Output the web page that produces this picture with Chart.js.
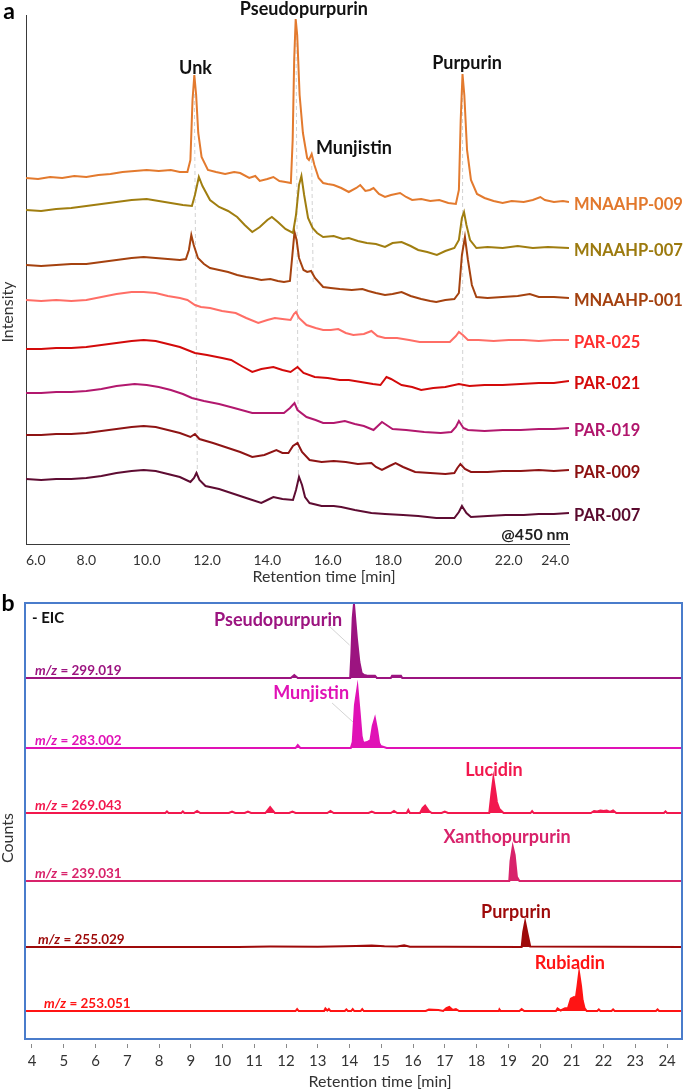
<!DOCTYPE html>
<html>
<head>
<meta charset="utf-8">
<title>HPLC chromatograms and EIC</title>
<script src="https://cdn.jsdelivr.net/npm/chart.js@4.4.1/dist/chart.umd.min.js"></script>
<style>
  html, body { margin: 0; padding: 0; background: #fff; }
  .panel { position: relative; width: 685px; }
  #panelA { height: 590px; }
  #panelB { height: 501px; }
</style>
</head>
<body>
<div class="panel" id="panelA"><canvas id="chartA"></canvas></div>
<div class="panel" id="panelB"><canvas id="chartB"></canvas></div>
<script>
// ---- panel a : chromatograms @450 nm (stacked, arbitrary intensity units) ----
const ticksA = [6, 8, 10, 12, 14, 16, 18, 20, 22, 24];
const sampleNames = ['MNAAHP-009', 'MNAAHP-007', 'MNAAHP-001', 'PAR-025', 'PAR-021', 'PAR-019', 'PAR-009', 'PAR-007'];

const mnaahp009 = [[6.0,366],[6.4,365],[6.8,367],[7.2,366],[7.6,368],[8.0,367],[8.4,369],[8.8,370],[9.2,372],[9.6,373],[10.0,374],[10.4,373],[10.8,374],[11.1,372],[11.35,372],[11.45,384],[11.52,444],[11.58,469],[11.64,449],[11.71,411],[11.82,387],[12.03,374],[12.3,372],[12.6,370],[12.9,372],[13.1,371],[13.4,366],[13.6,368],[13.75,363],[14.0,365],[14.2,367],[14.4,363],[14.6,362],[14.78,361],[14.84,404],[14.89,484],[14.94,525],[14.99,509],[15.07,449],[15.18,411],[15.32,386],[15.38,384],[15.47,390],[15.56,379],[15.7,366],[15.85,361],[16.0,360],[16.2,359],[16.45,356],[16.7,352],[16.95,356],[17.08,359],[17.25,353],[17.4,354],[17.52,356],[17.7,350],[17.9,347],[18.1,349],[18.4,351],[18.6,347],[18.8,344],[19.1,345],[19.4,343],[19.7,344],[20.0,341],[20.25,340],[20.35,354],[20.41,424],[20.47,470],[20.53,449],[20.62,394],[20.75,364],[20.95,350],[21.2,346],[21.5,343],[21.8,341],[22.1,343],[22.5,342],[22.8,344],[23.05,347],[23.2,344],[23.5,342],[23.8,343],[24.0,342]];

const mnaahp007 = [[6.0,334],[6.5,333],[7.0,335],[7.5,336],[8.0,338],[8.5,340],[9.0,342],[9.5,344],[10.0,345],[10.4,343],[10.8,341],[11.2,339],[11.5,338],[11.6,349],[11.73,367],[11.85,358],[12.1,344],[12.4,337],[12.7,333],[13.0,327],[13.25,319],[13.5,312],[13.75,317],[14.0,324],[14.15,327],[14.35,322],[14.6,315],[14.85,311],[14.95,329],[15.05,359],[15.13,368],[15.22,349],[15.35,326],[15.5,316],[15.65,311],[15.85,307],[16.2,308],[16.5,305],[16.7,306],[17.0,303],[17.3,301],[17.6,300],[17.9,297],[18.15,301],[18.45,302],[18.75,298],[19.0,294],[19.3,292],[19.62,289],[19.9,293],[20.2,296],[20.35,304],[20.45,326],[20.52,332],[20.6,319],[20.72,304],[20.93,296],[21.3,297],[21.8,296],[22.3,298],[22.8,296],[23.3,297],[24.0,296]];

const mnaahp001 = [[6.0,279],[6.5,278],[7.0,279],[7.5,280],[8.0,280],[8.5,282],[9.0,284],[9.5,286],[9.9,287],[10.3,286],[10.7,285],[11.1,284],[11.3,285],[11.4,294],[11.48,309],[11.56,299],[11.7,286],[11.9,280],[12.1,276],[12.4,274],[12.7,272],[13.0,269],[13.3,267],[13.5,266],[13.8,264],[14.1,265],[14.35,263],[14.55,262],[14.75,263],[14.83,289],[14.9,312],[14.97,304],[15.05,286],[15.2,274],[15.32,272],[15.45,273],[15.58,266],[15.85,257],[16.1,256],[16.4,255],[16.8,254],[17.15,255],[17.35,253],[17.6,251],[17.9,249],[18.15,250],[18.45,252],[18.75,248],[19.1,245],[19.4,243],[19.6,242],[19.9,244],[20.2,245],[20.35,251],[20.45,289],[20.55,307],[20.65,284],[20.78,259],[20.93,247],[21.3,246],[21.8,247],[22.3,248],[22.7,250],[23.0,247],[23.5,247],[24.0,246]];

const par025 = [[6.0,244],[6.5,243],[7.0,244],[7.5,243],[8.0,244],[8.5,247],[9.0,250],[9.5,252],[9.9,252],[10.3,251],[10.7,248],[11.1,246],[11.35,244],[11.6,239],[11.8,237],[12.1,236],[12.5,233],[12.95,231],[13.3,226],[13.7,221],[14.0,224],[14.25,226],[14.5,225],[14.77,224],[14.88,230],[14.95,232],[15.05,226],[15.3,219],[15.6,216],[15.85,214],[16.1,214],[16.35,215],[16.6,211],[16.85,209],[17.2,210],[17.45,213],[17.65,208],[17.9,206],[18.3,206],[18.7,204],[19.05,202],[19.5,202],[20.05,202],[20.25,208],[20.35,212],[20.48,209],[20.65,204],[21.0,204],[21.5,203],[22.0,204],[22.5,204],[23.0,203],[23.5,204],[24.0,204]];

const par021 = [[6.0,195],[6.5,195],[7.0,196],[7.5,196],[8.0,197],[8.5,199],[9.0,201],[9.5,203],[9.9,204],[10.3,203],[10.7,200],[11.1,197],[11.6,191],[12.0,189],[12.5,186],[12.8,184],[13.2,177],[13.5,172],[13.8,175],[14.2,177],[14.5,174],[14.77,172],[15.0,177],[15.2,171],[15.57,167],[16.0,166],[16.4,164],[16.7,164],[17.1,162],[17.5,160],[17.75,159],[17.95,167],[18.1,165],[18.45,159],[18.8,157],[19.1,154],[19.5,156],[19.9,157],[20.35,160],[20.7,158],[21.2,159],[21.8,159],[22.4,160],[23.0,161],[23.5,161],[24.0,163]];

const par019 = [[6.0,151],[6.5,151],[7.0,152],[7.5,152],[8.0,153],[8.5,155],[9.0,158],[9.6,160],[10.0,159],[10.4,157],[10.8,154],[11.2,150],[11.5,146],[11.9,143],[12.4,140],[12.9,136],[13.5,131],[14.0,131],[14.55,131],[14.75,136],[14.9,141],[15.0,134],[15.3,127],[15.6,124],[15.85,121],[16.2,121],[16.57,123],[16.9,120],[17.2,118],[17.52,114],[17.8,122],[17.95,119],[18.15,115],[18.6,114],[19.2,112],[19.75,111],[20.1,112],[20.25,117],[20.35,123],[20.5,116],[20.65,114],[21.2,113],[21.8,114],[22.4,114],[23.0,115],[23.5,115],[24.0,116]];

const par009 = [[6.0,109],[6.5,109],[7.0,110],[7.5,110],[8.0,111],[8.5,113],[9.0,115],[9.5,117],[9.9,118],[10.3,117],[10.7,114],[11.1,111],[11.45,107],[11.6,110],[11.75,105],[12.2,101],[12.7,96],[13.1,92],[13.5,87],[13.9,89],[14.3,94],[14.5,91],[14.7,91],[14.85,98],[15.0,101],[15.15,92],[15.4,84],[15.8,82],[16.2,83],[16.6,82],[17.0,80],[17.45,81],[17.6,77],[17.8,74],[18.05,78],[18.25,81],[18.5,77],[18.9,72],[19.4,71],[19.9,70],[20.2,71],[20.3,76],[20.4,80],[20.55,75],[20.75,72],[21.3,72],[21.8,73],[22.4,73],[23.0,74],[23.5,73],[24.0,74]];

const par007 = [[6.0,65],[6.5,64],[7.0,65],[7.5,65],[8.0,66],[8.5,68],[9.0,71],[9.5,73],[9.9,74],[10.3,73],[10.7,70],[11.1,67],[11.45,62],[11.57,66],[11.65,71],[11.75,64],[11.95,58],[12.4,55],[12.9,50],[13.4,45],[13.8,41],[14.0,44],[14.2,47],[14.5,45],[14.85,44],[14.95,54],[15.05,67],[15.15,59],[15.25,47],[15.4,41],[15.8,38],[16.2,38],[16.45,37],[16.9,34],[17.45,31],[17.9,30],[18.5,29],[19.0,28],[19.6,26],[20.2,26],[20.35,32],[20.45,38],[20.6,31],[20.75,27],[21.3,28],[21.9,29],[22.5,29],[23.0,30],[23.5,30],[24.0,31]];

const tracesA = [mnaahp009, mnaahp007, mnaahp001, par025, par021, par019, par009, par007];
const traceColorsA = ['#E37A2E', '#A07E10', '#A5420F', '#FF6E66', '#D30A0A', '#B2186E', '#8E1414', '#5E0C32'];
const labelColorsA = ['#E2782C', '#9C7A0E', '#A3400E', '#FF2E2E', '#D40A0A', '#B0156C', '#8C1010', '#5A0A2E'];

// dashed guides linking the peaks across the samples
const guideUnk = [[11.58,450],[11.68,69]];
const guidePseudo = [[14.95,515],[15.03,67]];
const guideMunj = [[15.47,385],[15.52,262]];
const guidePurp = [[20.47,460],[20.48,36]];

// ---- panel b : extracted ion chromatograms (negative mode) ----
const ticksB = [4, 5, 6, 7, 8, 9, 10, 11, 12, 13, 14, 15, 16, 17, 18, 19, 20, 21, 22, 23, 24];
const eicMz = ['299.019', '283.002', '269.043', '239.031', '255.029', '253.051'];
const eicCompounds = ['Pseudopurpurin', 'Munjistin', 'Lucidin', 'Xanthopurpurin', 'Purpurin', 'Rubiadin'];
const eicBaselines = [361, 291, 226, 158, 92, 28];

const eic299 = [[3.78,0],[12.15,0],[12.26,3],[12.37,0],[14.02,0],[14.06,25],[14.1,60],[14.14,74],[14.19,55],[14.23,40],[14.31,16],[14.38,5],[14.46,3],[14.54,2.6],[14.8,2.3],[14.86,0],[15.3,0],[15.34,2.3],[15.62,2.3],[15.66,0],[24.47,0]];
const eic283 = [[3.78,0],[12.3,0],[12.37,3],[12.45,0],[14.04,0],[14.1,6],[14.17,43],[14.25,60],[14.32,35],[14.38,12],[14.43,5],[14.56,6],[14.66,8],[14.73,22],[14.8,29.5],[14.87,18],[14.93,5],[14.98,2],[15.17,0],[24.47,0]];
const eic269 = [[3.78,0],[8.2,0],[8.25,1.5],[8.3,0],[8.7,0],[8.75,1.5],[8.8,0],[9.1,0],[9.2,2],[9.3,0],[10.2,0],[10.3,1.5],[10.4,0],[10.7,0],[10.8,1.5],[10.9,0],[11.35,0],[11.5,6],[11.65,0],[12.1,0],[12.2,1.5],[12.3,0],[13.3,0],[13.4,2],[13.5,0],[14.6,0],[14.7,1.5],[14.8,0],[15.3,0],[15.4,2],[15.5,0],[15.8,0],[15.85,3],[15.9,0],[16.22,0],[16.3,5],[16.38,7.5],[16.5,2],[16.59,0],[16.9,0],[17.0,1.5],[17.1,0],[18.4,0],[18.47,20],[18.53,35],[18.6,20],[18.64,11],[18.72,4],[18.85,0],[19.7,0],[19.75,2],[19.8,0],[21.6,0],[21.7,2],[21.8,1.5],[21.9,2.5],[22.0,2],[22.1,2.5],[22.2,1],[22.3,2.5],[22.4,0],[23.9,0],[23.95,1.5],[24.0,0],[24.47,0]];
const eic239 = [[3.78,0],[19.03,0],[19.07,20],[19.14,34.3],[19.2,26],[19.27,4.3],[19.35,0],[24.47,0]];
const eic255 = [[3.78,0],[10.5,0],[11.5,0.5],[13.0,0.3],[14.2,1],[14.7,1.5],[15.1,0.8],[15.5,0.4],[15.72,1.7],[15.9,0.3],[17.0,0.3],[19.42,0],[19.47,15],[19.53,25],[19.6,14],[19.69,0.5],[24.47,0]];
const eic253 = [[3.78,0],[12.3,0],[12.35,2],[12.4,0],[13.2,0],[13.24,2.5],[13.3,0.5],[13.35,2],[13.4,0],[13.85,0],[13.9,1.5],[13.95,0],[14.05,0],[14.1,2],[14.15,0],[14.35,0],[14.4,2],[14.45,0],[16.4,0],[16.5,1.5],[16.8,1],[16.95,0],[17.05,3],[17.14,4],[17.25,1],[17.35,2],[17.45,0],[18.7,0],[18.72,1.7],[18.76,0],[19.35,0],[19.42,2],[19.5,0],[20.5,0],[20.55,2.5],[20.65,0.5],[20.79,2.7],[20.88,3],[20.97,12.4],[21.07,14],[21.12,11.7],[21.18,25],[21.23,38],[21.29,25],[21.34,10.7],[21.4,3],[21.47,0],[21.8,0],[21.85,1.5],[21.9,0],[22.25,0],[22.3,1.5],[22.35,0],[23.65,0],[23.7,1.5],[23.75,0],[24.47,0]];

const tracesB = [eic299, eic283, eic269, eic239, eic255, eic253];
const colorsB = ['#9C1480', '#E012B6', '#F2184E', '#D8236B', '#9E0A0A', '#FF1414'];
// compound label anchor (retention time, height in panel units)
const compoundLabelPos = [[11.75,419],[12.79,346],[18.55,269],[18.96,202],[19.24,127],[20.94,76]];
const leaderPseudo = [[13.32,414],[14.0,394]];
const leaderMunj = [[13.45,336],[14.11,317]];

const FONT = 'Lato, "Open Sans", sans-serif';

// plugin: free text (data or pixel anchored)
const textLayer = {
  id: 'textLayer',
  afterDatasetsDraw(chart, args, opts) {
    const ctx = chart.ctx;
    const xs = chart.scales.x, ys = chart.scales.y;
    ctx.save();
    (opts.items || []).forEach(it => {
      const px = it.data ? xs.getPixelForValue(it.x) : it.x;
      const py = it.data ? ys.getPixelForValue(it.y) : it.y;
      ctx.fillStyle = it.color || '#000';
      ctx.font = it.font;
      ctx.textAlign = it.align || 'center';
      ctx.textBaseline = 'middle';
      if (it.rotate) {
        ctx.save();
        ctx.translate(px, py);
        ctx.rotate(-Math.PI / 2);
        ctx.fillText(it.text, 0, 0);
        ctx.restore();
      } else {
        ctx.fillText(it.text, px, py);
      }
    });
    ctx.restore();
  }
};

// plugin: sample names next to each trace end (panel a)
const traceLabels = {
  id: 'traceLabels',
  afterDatasetsDraw(chart) {
    const ctx = chart.ctx;
    const ys = chart.scales.y;
    ctx.save();
    ctx.font = 'bold 16.5px ' + FONT;
    ctx.textAlign = 'left';
    ctx.textBaseline = 'middle';
    tracesA.forEach((tr, i) => {
      const last = tr[tr.length - 1];
      ctx.fillStyle = labelColorsA[i];
      ctx.fillText(sampleNames[i], chart.chartArea.right + 5, ys.getPixelForValue(last[1]) + 3);
    });
    ctx.restore();
  }
};

// plugin: blue frame + m/z labels (panel b)
const eicFrame = {
  id: 'eicFrame',
  afterDatasetsDraw(chart) {
    const { ctx, chartArea: a } = chart;
    const ys = chart.scales.y;
    ctx.save();
    ctx.strokeStyle = '#4A7CCB';
    ctx.lineWidth = 2;
    ctx.strokeRect(a.left, a.top, a.right - a.left, a.bottom - a.top);
    const lx = [35, 35, 35, 35, 38, 44];
    ctx.textBaseline = 'middle';
    ctx.textAlign = 'left';
    eicMz.forEach((mz, i) => {
      const y = ys.getPixelForValue(eicBaselines[i]) - 7;
      ctx.fillStyle = colorsB[i];
      ctx.font = 'italic bold 13.5px ' + FONT;
      ctx.fillText('m/z', lx[i], y);
      const w = ctx.measureText('m/z').width;
      ctx.font = 'bold 13.5px ' + FONT;
      ctx.fillText(' = ' + mz, lx[i] + w, y);
    });
    ctx.restore();
  }
};

const toXY = arr => arr.map(p => ({ x: p[0], y: p[1] }));

// ---------- chart a ----------
const dsA = tracesA.map((tr, i) => ({
  label: sampleNames[i],
  data: toXY(tr),
  borderColor: traceColorsA[i],
  borderWidth: 2,
  pointRadius: 0,
  tension: 0,
  order: 1
}));
[guideUnk, guidePseudo, guideMunj, guidePurp].forEach(g => dsA.push({
  data: toXY(g),
  borderColor: '#D2D2D2',
  borderWidth: 1,
  borderDash: [4, 3],
  pointRadius: 0,
  order: 10
}));

const annA = [
  { text: 'a', x: 9, y: 12, font: 'bold 23px ' + FONT },
  { text: 'Unk', data: true, x: 11.62, y: 476, font: 'bold 18px ' + FONT, color: '#111' },
  { text: 'Pseudopurpurin', data: true, x: 15.21, y: 535, font: 'bold 18px ' + FONT, color: '#111' },
  { text: 'Munjistin', data: true, x: 16.87, y: 396, font: 'bold 18px ' + FONT, color: '#111' },
  { text: 'Purpurin', data: true, x: 20.62, y: 481, font: 'bold 18px ' + FONT, color: '#111' },
  { text: '@450 nm', x: 569, y: 535, align: 'right', font: 'bold 16px ' + FONT, color: '#222' },
  { text: 'Retention time [min]', x: 324, y: 577, font: '16px ' + FONT, color: '#333' },
  { text: 'Intensity', x: 8, y: 312, rotate: true, font: '16px ' + FONT, color: '#333' }
];

new Chart(document.getElementById('chartA'), {
  type: 'line',
  data: { datasets: dsA },
  options: {
    responsive: true,
    maintainAspectRatio: false,
    animation: false,
    layout: { padding: { top: 15, right: 116, left: 0, bottom: 0 } },
    plugins: {
      legend: { display: false },
      tooltip: { enabled: false },
      textLayer: { items: annA }
    },
    scales: {
      x: {
        type: 'linear', min: 6, max: 24,
        afterBuildTicks: s => { s.ticks = ticksA.map(v => ({ value: v })); },
        afterFit: s => { s.height = 46; },
        grid: { display: true, drawOnChartArea: false, drawTicks: false },
        border: { display: true, color: '#3a3a3a', width: 1 },
        ticks: { align: 'inner', padding: 8, color: '#333', font: { family: FONT, size: 14 }, callback: v => v.toFixed(1) }
      },
      y: {
        min: 0, max: 529,
        afterFit: s => { s.width = 26; },
        grid: { display: true, drawOnChartArea: false, drawTicks: false },
        border: { display: true, color: '#3a3a3a', width: 1 },
        ticks: { display: false }
      }
    }
  },
  plugins: [textLayer, traceLabels]
});

// ---------- chart b ----------
const dsB = tracesB.map((tr, i) => ({
  label: 'm/z ' + eicMz[i],
  data: tr.map(p => ({ x: p[0], y: p[1] + eicBaselines[i] })),
  borderColor: colorsB[i],
  backgroundColor: colorsB[i],
  fill: { value: eicBaselines[i] },
  borderWidth: 2,
  pointRadius: 0,
  tension: 0,
  order: 1
}));
[leaderPseudo, leaderMunj].forEach(g => dsB.push({
  data: toXY(g),
  borderColor: '#C8C8C8',
  borderWidth: 0.8,
  pointRadius: 0,
  fill: false,
  order: 5
}));

const annB = [
  { text: 'b', x: 8, y: 14, font: 'bold 23px ' + FONT },
  { text: '- EIC', x: 32, y: 28, align: 'left', font: 'bold 15px ' + FONT, color: '#111' },
  { text: 'Retention time [min]', x: 380, y: 492, font: '16px ' + FONT, color: '#333' },
  { text: 'Counts', x: 8, y: 248, rotate: true, font: '16px ' + FONT, color: '#333' }
].concat(eicCompounds.map((c, i) => ({
  text: c, data: true, x: compoundLabelPos[i][0], y: compoundLabelPos[i][1],
  font: 'bold 18px ' + FONT, color: colorsB[i]
})));

new Chart(document.getElementById('chartB'), {
  type: 'line',
  data: { datasets: dsB },
  options: {
    responsive: true,
    maintainAspectRatio: false,
    animation: false,
    layout: { padding: { top: 13, right: 3, left: 25, bottom: 0 } },
    plugins: {
      legend: { display: false },
      tooltip: { enabled: false },
      textLayer: { items: annB }
    },
    scales: {
      x: {
        type: 'linear', min: 3.78, max: 24.47,
        afterBuildTicks: s => { s.ticks = ticksB.map(v => ({ value: v })); },
        afterFit: s => { s.height = 52; },
        grid: { display: true, drawOnChartArea: false, drawTicks: true, tickLength: 10, tickColor: '#8a8a8a', tickBorderDash: [0, 5, 4, 10] },
        border: { display: false },
        ticks: { padding: 3, color: '#333', font: { family: FONT, size: 15 }, callback: v => String(v) }
      },
      y: { display: false, min: 0, max: 436 }
    }
  },
  plugins: [textLayer, eicFrame]
});
</script>
</body>
</html>
